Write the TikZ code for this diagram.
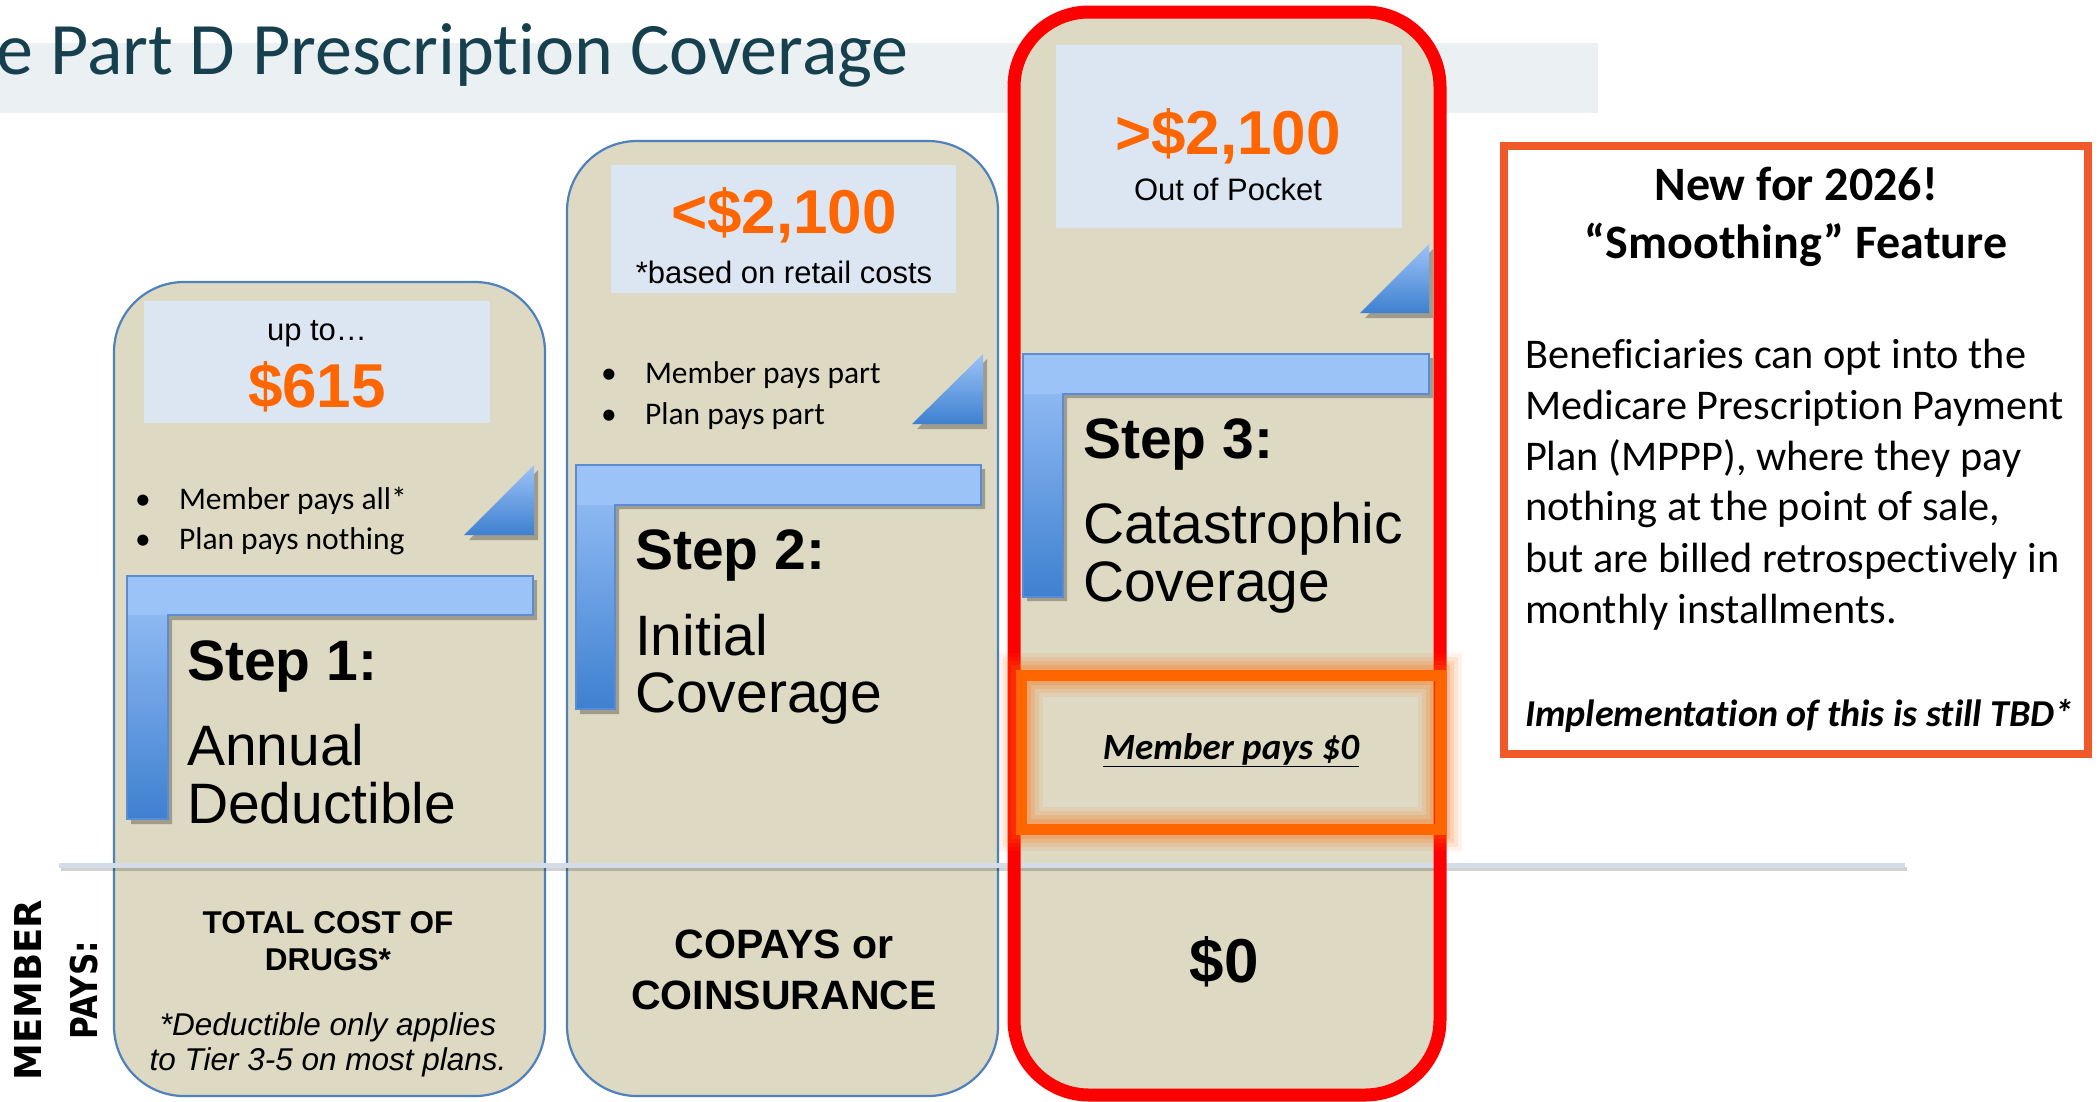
\documentclass[tikz,border=0pt]{standalone}
\usepackage{fontspec}
\setmainfont{Liberation Sans}
\newfontfamily\calibfont[Ligatures=NoCommon]{Carlito}
\newfontfamily\widefont{DejaVu Sans}
\definecolor{beige}{HTML}{DDD9C3}
\definecolor{colline}{HTML}{4F81BD}
\definecolor{boxblue}{HTML}{DCE6F2}
\definecolor{orng}{HTML}{FF6600}
\definecolor{titleband}{HTML}{EBF0F3}
\definecolor{titletext}{HTML}{17404F}
\definecolor{lightbar}{HTML}{9CC3F8}
\definecolor{darkbar}{HTML}{3E80D0}
\definecolor{barline}{HTML}{5B8BD2}
\definecolor{rbox}{HTML}{F05A2A}
\definecolor{sepline}{HTML}{D3DCE9}
\definecolor{redcol}{HTML}{FF0000}
\newcommand{\fsz}[1]{\fontsize{#1}{#1}\selectfont}
\tikzset{
  colbox/.style={fill=beige, draw=colline, line width=2.2, rounded corners=70},
  lbox/.style={fill=boxblue},
  txt/.style={inner sep=0, outer sep=0, text=black},
  shad/.style={fill=black, opacity=0.28},
  tri/.style={top color=lightbar, bottom color=darkbar},
  vbar/.style={top color=lightbar, bottom color=darkbar},
  hbar/.style={fill=lightbar},
  lline/.style={draw=barline, line width=1.4},
  bigorange/.style={txt, text=orng, font=\fsz{62}\bfseries},
  smalltxt/.style={txt, font=\fsz{31}},
  bullettxt/.style={txt, font=\calibfont\fsz{31.5}},
  steptxt/.style={txt, font=\fsz{57}\bfseries},
  steptitle/.style={txt, font=\fsz{57}},
  bodytxt/.style={txt, font=\calibfont\fsz{42.3}},
}
\begin{document}
\begin{tikzpicture}[x=1pt,y=-1pt]
\useasboundingbox (0,0) rectangle (2100,1101);
\clip (0,0) rectangle (2100,1101);
\fill[white] (0,0) rectangle (2100,1101);
% title band
\fill[titleband] (0,43) rectangle (1598,113);
\node[txt, anchor=base west, text=titletext, font=\calibfont\fsz{74}] (title) at (-3,74) {e Part D Prescription Coverage};

% ---------- column 1 ----------
\draw[colbox] (114,282) rectangle (545,1096);
\fill[lbox] (144,301) rectangle (490,423);
\node[smalltxt, anchor=base] (upto) at (317,340) {up to…};
\node[bigorange, anchor=base] (d615) at (317,407) {\$615};
\node[bullettxt, anchor=base] (b11) at (143,509) {•};
\node[bullettxt, anchor=base west] (t11) at (179,509) {Member pays all*};
\node[bullettxt, anchor=base] (b12) at (143,549) {•};
\node[bullettxt, anchor=base west] (t12) at (179,549) {Plan pays nothing};
\fill[shad] (469,540) -- (538,540) -- (538,470) -- cycle;
\shade[tri] (464,535) -- (534,535) -- (534,465) -- cycle;
\fill[shad] (131,580) -- (537,580) -- (537,620) -- (172,620) -- (172,824) -- (131,824) -- cycle;
\shade[vbar] (127,576) rectangle (168,819);
\fill[hbar] (127,576) rectangle (533,615);
\draw[lline] (127,576) -- (533,576) -- (533,615) -- (168,615) -- (168,819) -- (127,819) -- cycle;
\node[steptxt, anchor=base west] (s1) at (187,680) {Step 1:};
\node[steptitle, anchor=base west] (s1a) at (187,765) {Annual};
\node[steptitle, anchor=base west] (s1b) at (187,823) {Deductible};
\node[txt, anchor=base, font=\fsz{31.5}\bfseries] (c1a) at (328,933) {TOTAL COST OF};
\node[txt, anchor=base, font=\fsz{31.5}\bfseries] (c1b) at (328,970) {DRUGS*};
\node[txt, anchor=base, font=\fsz{31.5}\itshape] (c1c) at (328,1035) {*Deductible only applies};
\node[txt, anchor=base, font=\fsz{31.5}\itshape] (c1d) at (328,1070) {to Tier 3-5 on most plans.};

% ---------- column 2 ----------
\draw[colbox] (567,141) rectangle (998,1096);
\fill[lbox] (611,165) rectangle (956,293);
\node[bigorange, anchor=base] (d2100a) at (784,233) {<\$2,100};
\node[smalltxt, anchor=base] (retail) at (784,283) {*based on retail costs};
\node[bullettxt, anchor=base] (b21) at (609,383) {•};
\node[bullettxt, anchor=base west] (t21) at (645,383) {Member pays part};
\node[bullettxt, anchor=base] (b22) at (609,424) {•};
\node[bullettxt, anchor=base west] (t22) at (645,424) {Plan pays part};
\fill[shad] (917,429) -- (987,429) -- (987,359) -- cycle;
\shade[tri] (912,424) -- (983,424) -- (983,354) -- cycle;
\fill[shad] (580,469) -- (985,469) -- (985,509) -- (619,509) -- (619,714) -- (580,714) -- cycle;
\shade[vbar] (576,465) rectangle (615,709);
\fill[hbar] (576,465) rectangle (981,505);
\draw[lline] (576,465) -- (981,465) -- (981,505) -- (615,505) -- (615,709) -- (576,709) -- cycle;
\node[steptxt, anchor=base west] (s2) at (635,569) {Step 2:};
\node[steptitle, anchor=base west] (s2a) at (635,655) {Initial};
\node[steptitle, anchor=base west] (s2b) at (635,712) {Coverage};
\node[txt, anchor=base, font=\fsz{41}\bfseries] (c2a) at (784,958) {COPAYS or};
\node[txt, anchor=base, font=\fsz{41}\bfseries] (c2b) at (784,1009) {COINSURANCE};

% ---------- column 3 ----------
\fill[beige, rounded corners=75] (1014,12) rectangle (1440,1095);
\fill[lbox] (1056,45) rectangle (1402,228);
\node[bigorange, anchor=base] (d2100b) at (1228,154) {>\$2,100};
\node[smalltxt, anchor=base] (oop) at (1228,200) {Out of Pocket};
\fill[shad] (1365,318) -- (1433,318) -- (1433,249) -- cycle;
\shade[tri] (1360,313) -- (1429,313) -- (1429,244) -- cycle;
\fill[shad] (1027,358) -- (1433,358) -- (1433,398) -- (1067,398) -- (1067,601) -- (1027,601) -- cycle;
\shade[vbar] (1023,354) rectangle (1063,597);
\fill[hbar] (1023,354) rectangle (1429,394);
\draw[lline] (1023,354) -- (1429,354) -- (1429,394) -- (1063,394) -- (1063,597) -- (1023,597) -- cycle;
\node[steptxt, anchor=base west] (s3) at (1083,458) {Step 3:};
\node[steptitle, anchor=base west] (s3a) at (1083,543) {Catastrophic};
\node[steptitle, anchor=base west] (s3b) at (1083,601) {Coverage};
\node[txt, anchor=base, font=\fsz{62}\bfseries] (c3) at (1224,982) {\$0};

% separator line
\draw[black, opacity=0.18, line width=4] (61,869) -- (1907,869);
\draw[sepline, line width=5] (59,865) -- (1905,865);

% red border of column 3
\draw[redcol, line width=13, rounded corners=75] (1014,12) rectangle (1440,1095);

% orange glowing box
\foreach \w/\o in {44/0.08, 36/0.10, 28/0.14, 20/0.20} {
  \draw[orng, opacity=\o, line width=\w] (1021,675) rectangle (1440,829);
}
\draw[orng, line width=11] (1021,675) rectangle (1440,829);
\node[txt, anchor=base, font=\calibfont\fsz{37}\bfseries\itshape] (mp0) at (1231,759) {\underline{Member pays \$0}};

% member pays label
\node[txt, rotate=90, font=\widefont\fsz{37}\bfseries] (mem) at (28,990) {MEMBER};
\node[txt, rotate=90, font=\widefont\fsz{37}\bfseries] (pays) at (84,990) {\scalebox{0.84}[1]{PAYS:}};

% right box
\draw[fill=white, draw=rbox, line width=8] (1504,146) rectangle (2088,754);
\node[txt, anchor=base, font=\calibfont\fsz{48}\bfseries] (new) at (1796,200) {New for 2026!};
\node[txt, anchor=base, font=\calibfont\fsz{48}\bfseries] (smooth) at (1796,258) {“Smoothing” Feature};
\node[bodytxt, anchor=base west] (l1) at (1525,368) {Beneficiaries can opt into the};
\node[bodytxt, anchor=base west] (l2) at (1525,419) {Medicare Prescription Payment};
\node[bodytxt, anchor=base west] (l3) at (1525,470) {Plan (MPPP), where they pay};
\node[bodytxt, anchor=base west] (l4) at (1525,520) {nothing at the point of sale,};
\node[bodytxt, anchor=base west] (l5) at (1525,572) {but are billed retrospectively in};
\node[bodytxt, anchor=base west] (l6) at (1525,623) {monthly installments.};
\node[txt, anchor=base west, font=\calibfont\fsz{38}\bfseries\itshape] (impl) at (1525,726) {Implementation of this is still TBD*};
\end{tikzpicture}
\end{document}
